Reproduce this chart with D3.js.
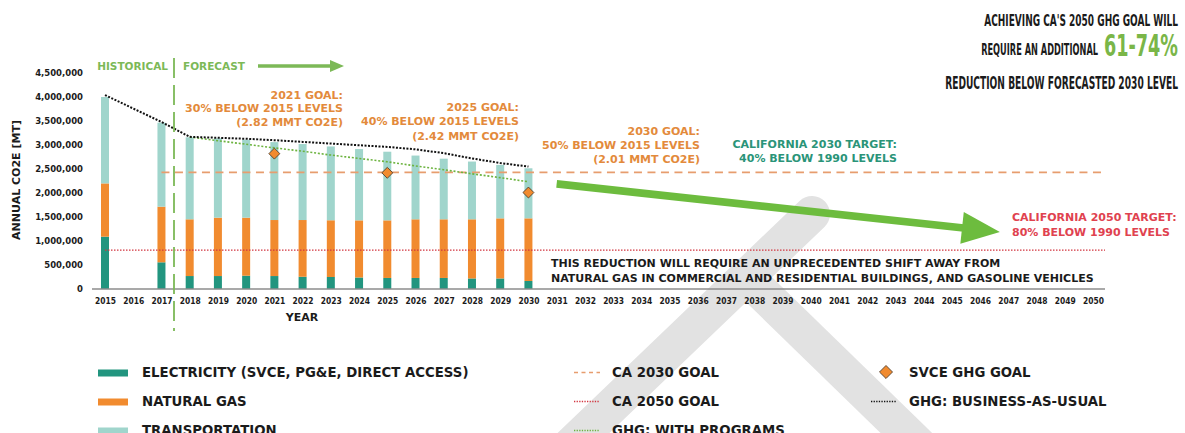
<!DOCTYPE html>
<html>
<head>
<meta charset="utf-8">
<script src="https://cdn.jsdelivr.net/npm/d3@7/dist/d3.min.js"></script>
<style>
  html, body { margin: 0; padding: 0; background: #fff; }
  svg { display: block; font-family: 'DejaVu Sans', sans-serif; font-weight: bold; }
</style>
</head>
<body>
<div id="chart"></div>
<script>
// x categories (tick labels)
const years = [2015, 2016, 2017, 2018, 2019, 2020, 2021, 2022, 2023, 2024, 2025, 2026,
  2027, 2028, 2029, 2030, 2031, 2032, 2033, 2034, 2035, 2036, 2037, 2038, 2039, 2040,
  2041, 2042, 2043, 2044, 2045, 2046, 2047, 2048, 2049, 2050];
const yTicks = [0, 500000, 1000000, 1500000, 2000000, 2500000, 3000000, 3500000, 4000000, 4500000];

// stacked bars (MT CO2e)
const barYears = [2015, 2017, 2018, 2019, 2020, 2021, 2022, 2023, 2024, 2025, 2026, 2027, 2028, 2029, 2030];
const electricity = [1090000, 556000, 270000, 270000, 277000, 270000, 255000, 250000, 240000, 230000, 230000, 230000, 220000, 220000, 167000];
const naturalGas = [1110000, 1159000, 1182000, 1216000, 1209000, 1167000, 1182000, 1182000, 1190000, 1200000, 1222000, 1222000, 1232000, 1252000, 1305000];
const transportation = [1800000, 1750000, 1708000, 1654000, 1624000, 1623000, 1583000, 1538000, 1485000, 1430000, 1328000, 1263000, 1203000, 1113000, 1043000];

// GHG lines
const bauYears = [2015, 2017, 2018, 2019, 2020, 2021, 2022, 2023, 2024, 2025, 2026, 2027, 2028, 2029, 2030];
const bauValues = [4040000, 3480000, 3170000, 3150000, 3130000, 3100000, 3065000, 3030000, 2995000, 2960000, 2910000, 2830000, 2720000, 2625000, 2550000];
const progYears = [2018, 2019, 2020, 2021, 2022, 2023, 2024, 2025, 2026, 2027, 2028, 2029, 2030];
const progValues = [3165000, 3090000, 3015000, 2940000, 2870000, 2790000, 2720000, 2650000, 2565000, 2485000, 2400000, 2320000, 2235000];

// SVCE goals
const goalYears = [2021, 2025, 2030];
const goalValues = [2820000, 2420000, 2010000];

// state targets
const ca2030Goal = 2430000;
const ca2050Goal = 810000;

// big "additional reduction" arrow
const arrowYears = [2031, 2046.7];
const arrowValues = [2190000, 1190000];

const W = 1185, H = 433;
const C = {
  elec: '#22957f', gas: '#f18b2f', trans: '#a0d5cc',
  orangeText: '#e38a3b', dash2030: '#e79d6e', red: '#d23640',
  green: '#7cb957', bigArrow: '#6dbc3e', teal: '#2a9478', ink: '#1b1b1b',
  watermark: '#e2e2e2'
};

const svg = d3.select('#chart').append('svg').attr('width', W).attr('height', H);

const x = d3.scaleLinear().domain([2015, 2050]).range([105, 1093]);
const y = d3.scaleLinear().domain([0, 4500000]).range([289, 73]);
const barW = 8;

// watermark shape in the background
const wm = svg.append('g').attr('stroke', C.watermark).attr('stroke-linecap', 'round').attr('fill', 'none');
wm.append('line').attr('x1', 812).attr('y1', 214).attr('x2', 570).attr('y2', 446).attr('stroke-width', 36);
wm.append('line').attr('x1', 745).attr('y1', 276).attr('x2', 930).attr('y2', 456).attr('stroke-width', 36)
  .attr('stroke-linecap', 'butt');

// bars
const rows = barYears.map((yr, i) => ({ year: yr, elec: electricity[i], gas: naturalGas[i], trans: transportation[i] }));
const series = d3.stack().keys(['elec', 'gas', 'trans'])(rows);
svg.append('g').selectAll('g')
  .data(series)
  .enter().append('g')
  .attr('fill', d => C[d.key])
  .selectAll('rect')
  .data(d => d)
  .enter().append('rect')
  .attr('x', d => x(d.data.year) - barW / 2)
  .attr('width', barW)
  .attr('y', d => y(d[1]))
  .attr('height', d => y(d[0]) - y(d[1]));

// x axis
const xAxis = svg.append('g')
  .attr('transform', `translate(0,${y(0)})`)
  .call(d3.axisBottom(x).tickValues(years).tickFormat(d3.format('d')).tickSize(0).tickPadding(9));
xAxis.select('.domain').remove();
xAxis.selectAll('text').attr('font-family', 'DejaVu Sans Condensed, DejaVu Sans').attr('font-weight', 'bold')
  .attr('font-size', 8.4).attr('fill', C.ink);
svg.append('line').attr('x1', 92).attr('x2', 1105).attr('y1', y(0)).attr('y2', y(0))
  .attr('stroke', '#8c8c8c').attr('stroke-width', 1.5);

// y axis
const yAxis = svg.append('g')
  .attr('transform', 'translate(88,0)')
  .call(d3.axisLeft(y).tickValues(yTicks).tickFormat(d3.format(',')).tickSize(0).tickPadding(5));
yAxis.select('.domain').remove();
yAxis.selectAll('text').attr('font-family', 'DejaVu Sans').attr('font-weight', 'bold')
  .attr('font-size', 8.5).attr('fill', C.ink);

svg.append('text').attr('transform', 'translate(20,180) rotate(-90)')
  .attr('text-anchor', 'middle').attr('font-size', 11).attr('fill', C.ink)
  .text('ANNUAL CO2E [MT]');
svg.append('text').attr('x', 302).attr('y', 321).attr('text-anchor', 'middle')
  .attr('font-size', 11).attr('fill', C.ink).text('YEAR');

// reference lines
svg.append('line').attr('x1', x(2017)).attr('x2', 1105).attr('y1', y(ca2030Goal)).attr('y2', y(ca2030Goal))
  .attr('stroke', C.dash2030).attr('stroke-width', 1.7).attr('stroke-dasharray', '8,5.5');
svg.append('line').attr('x1', x(2015)).attr('x2', 1105).attr('y1', y(ca2050Goal)).attr('y2', y(ca2050Goal))
  .attr('stroke', C.red).attr('stroke-width', 1.3).attr('stroke-dasharray', '1.5,1.5');

// GHG lines
const line = d3.line().x(d => x(d[0])).y(d => y(d[1]));
svg.append('path').datum(progYears.map((yr, i) => [yr, progValues[i]]))
  .attr('d', line).attr('fill', 'none').attr('stroke', '#6cb33f').attr('stroke-width', 1.6)
  .attr('stroke-dasharray', '2,1.8');
svg.append('path').datum(bauYears.map((yr, i) => [yr, bauValues[i]]))
  .attr('d', line).attr('fill', 'none').attr('stroke', '#111').attr('stroke-width', 2)
  .attr('stroke-dasharray', '2,1.5');

// SVCE goal diamonds
svg.append('g').selectAll('path')
  .data(goalYears.map((yr, i) => [yr, goalValues[i]]))
  .enter().append('path')
  .attr('transform', d => `translate(${x(d[0])},${y(d[1])}) rotate(45)`)
  .attr('d', d3.symbol().type(d3.symbolSquare).size(60))
  .attr('fill', C.gas).attr('stroke', '#4a3a2a').attr('stroke-width', 0.8);

// historical / forecast divider
svg.append('line').attr('x1', 174).attr('x2', 174).attr('y1', 58).attr('y2', 331)
  .attr('stroke', C.green).attr('stroke-width', 1.8).attr('stroke-dasharray', '20,7');
svg.append('text').attr('x', 168).attr('y', 70).attr('text-anchor', 'end')
  .attr('font-size', 10.5).attr('fill', C.green).text('HISTORICAL');
svg.append('text').attr('x', 183).attr('y', 70)
  .attr('font-size', 10.5).attr('fill', C.green).text('FORECAST');
svg.append('line').attr('x1', 258).attr('x2', 332).attr('y1', 66).attr('y2', 66)
  .attr('stroke', C.green).attr('stroke-width', 3.3);
svg.append('path').attr('d', 'M330,60L344,66L330,72Z').attr('fill', C.green);

// multi-line text helper
function block(lines, px, py, anchor, color, size, gap) {
  const t = svg.append('text').attr('text-anchor', anchor).attr('fill', color).attr('font-size', size);
  lines.forEach((s, i) => t.append('tspan').attr('x', px).attr('y', py + i * gap).text(s));
  return t;
}
block(['2021 GOAL:', '30% BELOW 2015 LEVELS', '(2.82 MMT CO2E)'], 343, 98.5, 'end', C.orangeText, 11, 13.8);
block(['2025 GOAL:', '40% BELOW 2015 LEVELS', '(2.42 MMT CO2E)'], 519, 110.7, 'end', C.orangeText, 11, 14.6);
block(['2030 GOAL:', '50% BELOW 2015 LEVELS', '(2.01 MMT CO2E)'], 700, 135, 'end', C.orangeText, 11, 14.2);
block(['CALIFORNIA 2030 TARGET:', '40% BELOW 1990 LEVELS'], 897, 147.5, 'end', C.teal, 11, 14.5);
block(['CALIFORNIA 2050 TARGET:', '80% BELOW 1990 LEVELS'], 1012, 220.7, 'start', '#e0424f', 11, 15);
block(['THIS REDUCTION WILL REQUIRE AN UNPRECEDENTED SHIFT AWAY FROM',
  'NATURAL GAS IN COMMERCIAL AND RESIDENTIAL BUILDINGS, AND GASOLINE VEHICLES'], 551, 267.3, 'start', C.ink, 11, 14.4);

// big green arrow toward 2050
{
  const x1 = x(arrowYears[0]), y1 = y(arrowValues[0]);
  const x2 = x(arrowYears[1]), y2 = y(arrowValues[1]);
  const ang = Math.atan2(y2 - y1, x2 - x1) * 180 / Math.PI;
  const len = Math.hypot(x2 - x1, y2 - y1);
  const g = svg.append('g').attr('transform', `translate(${x1},${y1}) rotate(${ang})`);
  g.append('rect').attr('x', 0).attr('y', -3.8).attr('width', len - 34).attr('height', 7.6).attr('fill', C.bigArrow);
  g.append('path').attr('d', `M${len - 38},-16L${len},0L${len - 38},16Z`).attr('fill', C.bigArrow);
}

// top right callout, squeezed horizontally like a condensed display face
function squeezed(str, right, base, size, width, color) {
  const g = svg.append('g').attr('transform', `translate(${right},${base})`);
  const t = g.append('text').attr('text-anchor', 'end').attr('font-size', size)
    .attr('font-family', 'DejaVu Sans Condensed, DejaVu Sans').attr('fill', color).text(str);
  const natural = t.node().getComputedTextLength();
  t.attr('transform', `scale(${width / natural},1)`);
}
squeezed("ACHIEVING CA'S 2050 GHG GOAL WILL", 1178, 25.5, 16, 194, C.ink);
squeezed('REQUIRE AN ADDITIONAL', 1098, 55, 16, 117, C.ink);
squeezed('61-74%', 1178, 56, 30, 74, '#7ab648');
squeezed('REDUCTION BELOW FORECASTED 2030 LEVEL', 1178, 89.3, 17, 233, C.ink);

// legend
const legendFont = 13.3;
const leg = svg.append('g').attr('font-size', legendFont).attr('fill', C.ink);
const sw = [['ELECTRICITY (SVCE, PG&E, DIRECT ACCESS)', C.elec], ['NATURAL GAS', C.gas], ['TRANSPORTATION', C.trans]];
sw.forEach((d, i) => {
  leg.append('rect').attr('x', 98).attr('y', 369.5 + i * 29).attr('width', 30).attr('height', 7).attr('fill', d[1]);
  leg.append('text').attr('x', 142).attr('y', 377 + i * 29).text(d[0]);
});
const lineItems = [
  ['CA 2030 GOAL', C.dash2030, '4,3.5', 1.6],
  ['CA 2050 GOAL', C.red, '1.3,1.3', 1.3],
  ['GHG: WITH PROGRAMS', '#6cb33f', '1.3,1.3', 1.3]
];
lineItems.forEach((d, i) => {
  leg.append('line').attr('x1', 574).attr('x2', 600).attr('y1', 372.5 + i * 29).attr('y2', 372.5 + i * 29)
    .attr('stroke', d[1]).attr('stroke-dasharray', d[2]).attr('stroke-width', d[3]);
  leg.append('text').attr('x', 612).attr('y', 377 + i * 29).text(d[0]);
});
leg.append('path').attr('transform', 'translate(886,372) rotate(45)')
  .attr('d', d3.symbol().type(d3.symbolSquare).size(85))
  .attr('fill', C.gas).attr('stroke', '#4a3a2a').attr('stroke-width', 0.8);
leg.append('text').attr('x', 909).attr('y', 377).text('SVCE GHG GOAL');
leg.append('line').attr('x1', 871).attr('x2', 897).attr('y1', 401.5).attr('y2', 401.5)
  .attr('stroke', '#111').attr('stroke-dasharray', '1.3,1.3').attr('stroke-width', 1.4);
leg.append('text').attr('x', 909).attr('y', 406).text('GHG: BUSINESS-AS-USUAL');
</script>
</body>
</html>
